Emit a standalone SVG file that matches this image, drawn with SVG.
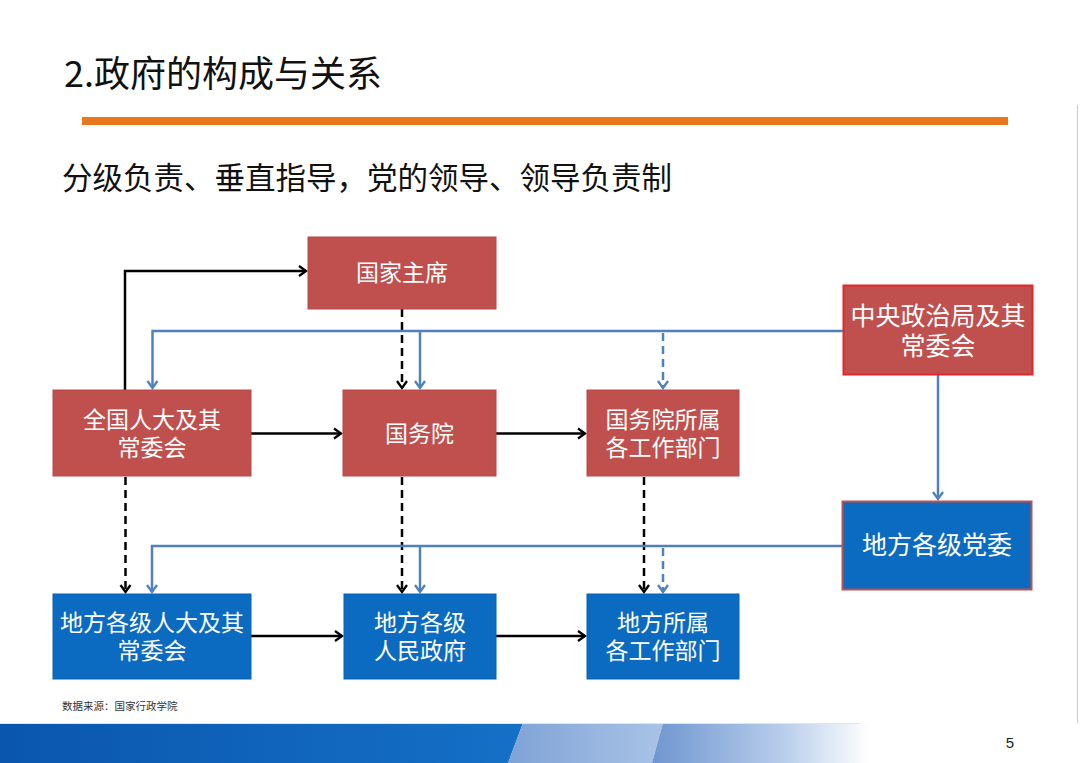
<svg xmlns="http://www.w3.org/2000/svg" width="1080" height="763" viewBox="0 0 1080 763">
<style>
.red{fill:#C0504D;stroke:#B9464A;stroke-width:1}
.blue{fill:#0B6BC1;stroke:#0B62B0;stroke-width:1}
.nt{font-family:"Liberation Sans","Noto Sans CJK SC",sans-serif;fill:#FFFFFF;font-size:23px;text-anchor:middle}
.nt2{font-family:"Liberation Sans","Noto Sans CJK SC",sans-serif;fill:#FFFFFF;font-size:25px;text-anchor:middle}
.k{fill:none;stroke:#000;stroke-width:2.5}
.kd{fill:none;stroke:#000;stroke-width:2.5;stroke-dasharray:8,5}
.b{fill:none;stroke:#4F81BD;stroke-width:2.5}
.bd{fill:none;stroke:#4F81BD;stroke-width:2.5;stroke-dasharray:8,5}
</style>
<defs>
<marker id="ak" markerUnits="userSpaceOnUse" markerWidth="12" markerHeight="14" refX="8" refY="6" orient="auto" viewBox="0 0 12 12">
<path d="M1,1 L8,6 L1,11" fill="none" stroke="#000" stroke-width="2.3"/>
</marker>
<marker id="ab" markerUnits="userSpaceOnUse" markerWidth="12" markerHeight="14" refX="8" refY="6" orient="auto" viewBox="0 0 12 12">
<path d="M1,1 L8,6 L1,11" fill="none" stroke="#4F81BD" stroke-width="2.3"/>
</marker>
<linearGradient id="g1" x1="0" y1="0" x2="1" y2="0">
<stop offset="0" stop-color="#0A56AE"/>
<stop offset="1" stop-color="#1570C6"/>
</linearGradient>
<linearGradient id="g2" x1="0" y1="0" x2="1" y2="0">
<stop offset="0" stop-color="#7FA3D6"/>
<stop offset="1" stop-color="#A9C3E6"/>
</linearGradient>
<linearGradient id="g3" x1="0" y1="0" x2="1" y2="0">
<stop offset="0" stop-color="#6E96D0"/>
<stop offset="0.6" stop-color="#B8CDEB"/>
<stop offset="1" stop-color="#FFFFFF"/>
</linearGradient>
</defs>
<rect x="0" y="0" width="1080" height="763" fill="#FFFFFF"/>
<line x1="1077.5" y1="105" x2="1077.5" y2="723" stroke="#CFCFCF" stroke-width="1.2"/>
<text x="64" y="87" font-family="Noto Sans CJK SC, sans-serif" font-size="36" fill="#111">2.政府的构成与关系</text>
<rect x="82" y="117" width="926" height="8" fill="#E8771E"/>
<text x="62" y="189" font-family="Noto Sans CJK SC, sans-serif" font-size="30.5" fill="#111">分级负责、垂直指导，党的领导、领导负责制</text>

<g id="connectors">
<polyline class="k" points="125,390 125,271 306,271" marker-end="url(#ak)"/>
<line class="k" x1="251" y1="433.5" x2="341" y2="433.5" marker-end="url(#ak)"/>
<line class="k" x1="496" y1="433.5" x2="585" y2="433.5" marker-end="url(#ak)"/>
<line class="k" x1="251" y1="636" x2="342" y2="636" marker-end="url(#ak)"/>
<line class="k" x1="496" y1="636" x2="585" y2="636" marker-end="url(#ak)"/>
<line class="kd" x1="402" y1="309" x2="402" y2="388" marker-end="url(#ak)"/>
<line class="kd" x1="125.5" y1="477" x2="125.5" y2="592" marker-end="url(#ak)"/>
<line class="kd" x1="402" y1="477" x2="402" y2="592" marker-end="url(#ak)"/>
<line class="kd" x1="644" y1="477" x2="644" y2="592" marker-end="url(#ak)"/>
<polyline class="b" points="843,331 152.5,331 152.5,388" marker-end="url(#ab)"/>
<line class="b" x1="420" y1="331" x2="420" y2="388" marker-end="url(#ab)"/>
<line class="bd" x1="663" y1="333" x2="663" y2="388" marker-end="url(#ab)"/>
<line class="b" x1="938" y1="375" x2="938" y2="499" marker-end="url(#ab)"/>
<polyline class="b" points="842,546 152,546 152,592" marker-end="url(#ab)"/>
<line class="b" x1="420" y1="546" x2="420" y2="592" marker-end="url(#ab)"/>
<line class="bd" x1="663" y1="548" x2="663" y2="592" marker-end="url(#ab)"/>
</g>

<g id="n1"><rect class="red" x="308" y="237" width="188" height="72"/><text class="nt" x="402" y="281">国家主席</text></g>
<g id="n2"><rect class="red" x="53" y="390" width="198" height="86"/><text class="nt"><tspan x="152" y="428">全国人大及其</tspan><tspan x="152" y="456">常委会</tspan></text></g>
<g id="n3"><rect class="red" x="343" y="390" width="153" height="86"/><text class="nt" x="419.5" y="442">国务院</text></g>
<g id="n4"><rect class="red" x="587" y="390" width="152" height="86"/><text class="nt"><tspan x="663" y="428">国务院所属</tspan><tspan x="663" y="456">各工作部门</tspan></text></g>
<g id="n5"><rect x="843.5" y="285.5" width="189" height="89" fill="#C0504D" stroke="#E3262A" stroke-width="2"/><text class="nt2"><tspan x="938" y="325">中央政治局及其</tspan><tspan x="938" y="355">常委会</tspan></text></g>
<g id="n6"><rect x="842.5" y="501.5" width="189" height="88" fill="#0B6BC1" stroke="#C0504D" stroke-width="2"/><text class="nt2" x="937" y="554">地方各级党委</text></g>
<g id="n7"><rect class="blue" x="53" y="594" width="198" height="85"/><text class="nt"><tspan x="152" y="631">地方各级人大及其</tspan><tspan x="152" y="659">常委会</tspan></text></g>
<g id="n8"><rect class="blue" x="344" y="594" width="152" height="85"/><text class="nt"><tspan x="420" y="631">地方各级</tspan><tspan x="420" y="659">人民政府</tspan></text></g>
<g id="n9"><rect class="blue" x="587" y="594" width="152" height="85"/><text class="nt"><tspan x="663" y="631">地方所属</tspan><tspan x="663" y="659">各工作部门</tspan></text></g>

<text x="62" y="710" font-family="Noto Sans CJK SC, sans-serif" font-size="10.5" fill="#333">数据来源：国家行政学院</text>

<g id="band">
<polygon points="0,723 523,723 508,763 0,763" fill="url(#g1)"/>
<polygon points="523,723 663,723 652,763 508,763" fill="url(#g2)"/>
<polygon points="663,723 870,723 870,763 652,763" fill="url(#g3)"/>
<line x1="0" y1="723.5" x2="860" y2="723.5" stroke="#DCE6F4" stroke-width="1"/>
</g>
<text x="1010" y="748" font-family="Liberation Sans, sans-serif" font-size="15" fill="#222" text-anchor="middle">5</text>
</svg>
